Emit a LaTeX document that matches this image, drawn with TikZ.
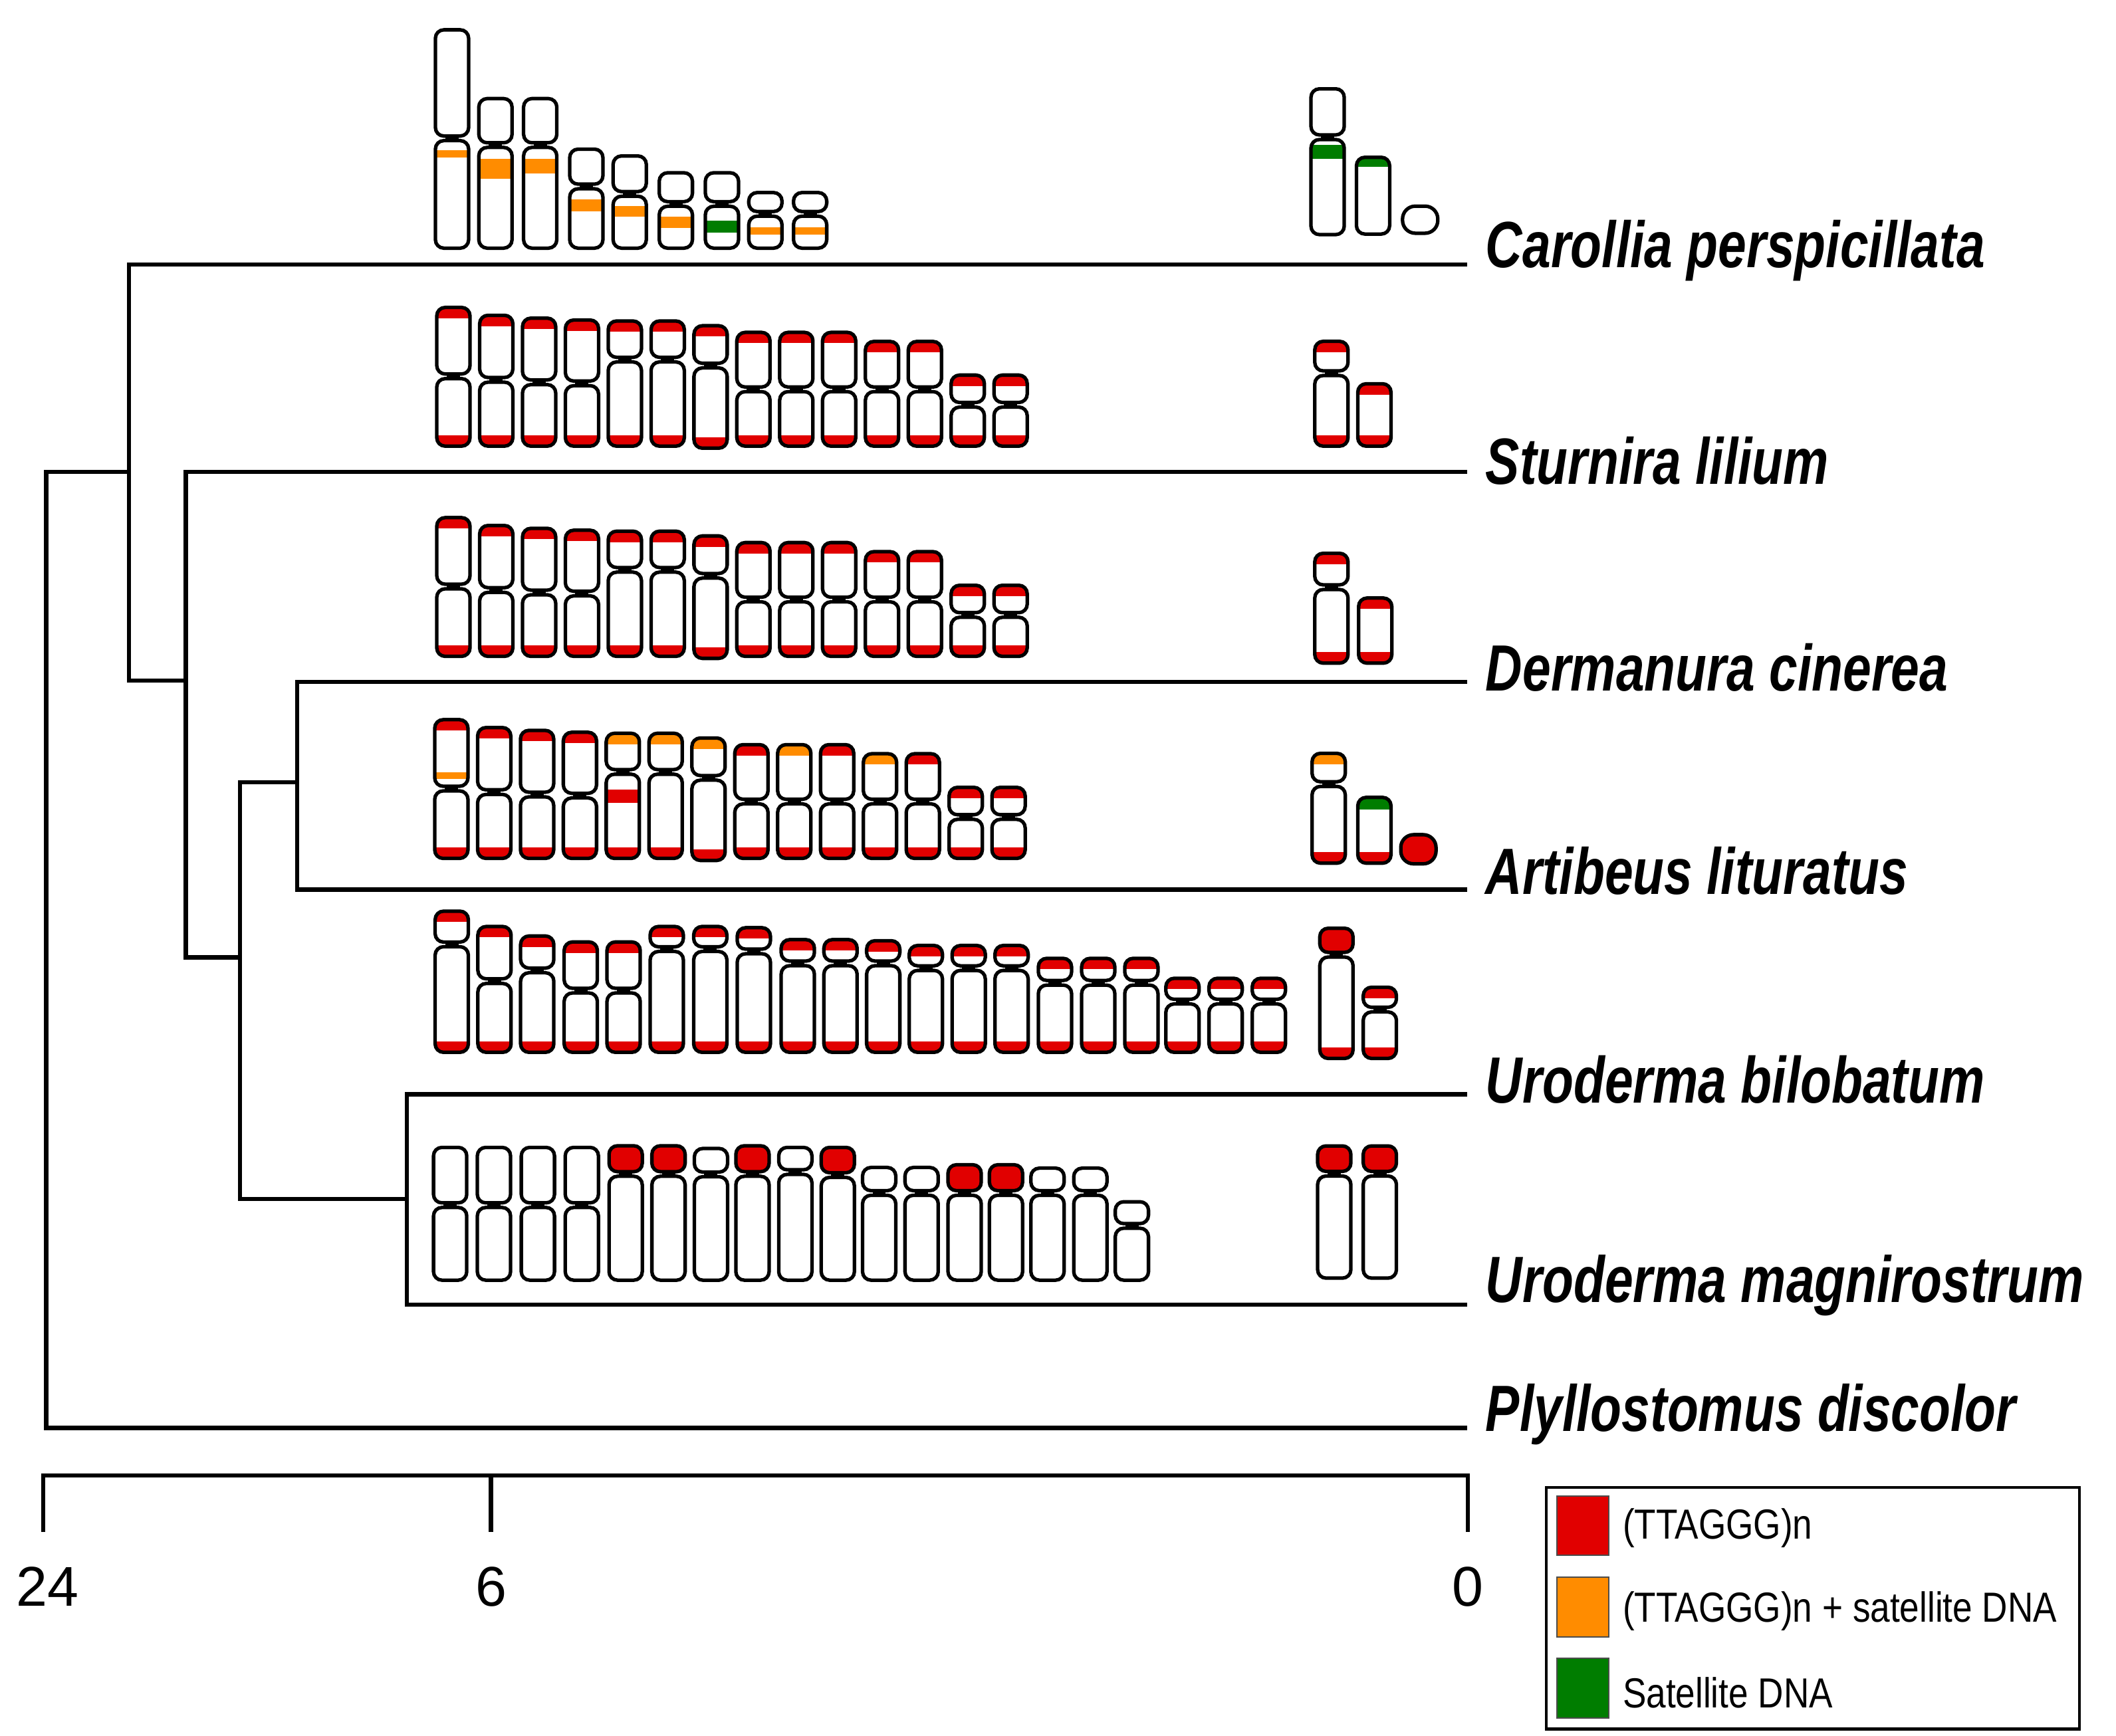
\documentclass[tikz,border=0pt]{standalone}
\usepackage{fontspec}
\setmainfont{Liberation Sans}
\definecolor{tred}{RGB}{225,0,0}
\definecolor{torange}{RGB}{255,140,0}
\definecolor{tgreen}{RGB}{0,125,0}
\newcommand\cw{24.5}
\newcommand\rcr{3.6pt}
\newcommand\arm[4]{%
 \begin{scope}\def\X{#1}\def\T{#2}\def\B{#3}
  \clip[rounded corners=\rcr] (#1,#2) rectangle (#1+\cw,#3);
  #4
 \end{scope}
 \draw[chr,rounded corners=\rcr] (#1,#2) rectangle (#1+\cw,#3);}
\newcommand\chrom[6]{%
 \arm{#1}{#2}{#3-1.7}{#5}
 \arm{#1}{#3+1.7}{#4}{#6}
 \fill (#1+0.3*\cw,#3-2.3) rectangle (#1+0.7*\cw,#3+2.3);}
\newcommand\bnd[3]{\fill[#1] (\X-2,#2) rectangle (\X+\cw+2,#3);}
\newcommand\redtop{\fill[tred] (\X-2,\T-2) rectangle (\X+\cw+2,\T+8);}
\newcommand\oratop{\fill[torange] (\X-2,\T-2) rectangle (\X+\cw+2,\T+8);}
\newcommand\redbot{\fill[tred] (\X-2,\B-8) rectangle (\X+\cw+2,\B+2);}
\newcommand\redall{\fill[tred] (\X-2,\T-2) rectangle (\X+\cw+2,\B+2);}
\newcommand\spname[1]{\scalebox{0.78}[1]{\bfseries\itshape #1}}
\newcommand\lgname[1]{\scalebox{0.84}[1]{#1}}
\begin{document}
\begin{tikzpicture}[x=0.0204cm,y=-0.0204cm,
 chr/.style={draw=black,line width=1.5pt},
 tree/.style={line width=1.8pt,line cap=rect},
 lab/.style={anchor=west,font=\fontsize{28}{30}\selectfont,inner sep=0pt},
 num/.style={font=\fontsize{24}{26}\selectfont,inner sep=0pt},
 lgt/.style={anchor=west,font=\fontsize{18}{20}\selectfont,inner sep=0pt},
 sw/.style={draw=black!70,line width=0.6pt}]
\useasboundingbox (0,0) rectangle (1560,1280);
% ---------- tree ----------
\coordinate (cE) at (1080,195);
\coordinate (sE) at (1080,348);
\coordinate (dE) at (1080,503);
\coordinate (aE) at (1080,656);
\coordinate (ubE) at (1080,807);
\coordinate (umE) at (1080,962);
\coordinate (pE) at (1080,1053);
\coordinate (nU) at (300,884);
\coordinate (nDA) at (219,577);
\coordinate (nDAU) at (177,706);
\coordinate (nS) at (137,502);
\coordinate (nC) at (95,348);
\coordinate (root) at (34,700);
\draw[tree] (ubE) -- (ubE-|nU) -- (umE-|nU) -- (umE);
\draw[tree] (dE) -- (dE-|nDA) -- (aE-|nDA) -- (aE);
\draw[tree] (nDA) -- (nDA-|nDAU) -- (nU-|nDAU) -- (nU);
\draw[tree] (nDAU) -- (nDAU-|nS);
\draw[tree] (sE) -- (sE-|nS) -- (nDAU-|nS);
\draw[tree] (nS) -- (nS-|nC);
\draw[tree] (cE) -- (cE-|nC) -- (nS-|nC);
\draw[tree] (nC) -- (nC-|root) -- (pE-|root) -- (pE);
% labels
\node[lab] (lC) at (1095,185) {\spname{Carollia perspicillata}};
\node[lab] (lS) at (1095,340) {\spname{Sturnira lilium}};
\node[lab] (lD) at (1095,492) {\spname{Dermanura cinerea}};
\node[lab] (lA) at (1095,642) {\spname{Artibeus lituratus}};
\node[lab] (lUB) at (1095,796) {\spname{Uroderma bilobatum}};
\node[lab] (lUM) at (1095,948) {\spname{Uroderma magnirostrum}};
\node[lab] (lP) at (1095,1043) {\spname{Plyllostomus discolor}};
% axis
\coordinate (t24) at (32,1088);
\coordinate (t6) at (362,1088);
\coordinate (t0) at (1082,1088);
\draw[tree] (t24) -- (t0);
\draw[tree] (t24) -- ++(0,40);
\draw[tree] (t6) -- ++(0,40);
\draw[tree] (t0) -- ++(0,40);
\node[num] (n24) at (35,1170) {24};
\node[num] (n6) at (362,1170) {6};
\node[num] (n0) at (1082,1170) {0};
% legend
\draw[line width=1.2pt] (1140,1097) rectangle (1533,1275);
\draw[sw,fill=tred] (1148,1103) rectangle (1186,1147);
\draw[sw,fill=torange] (1148,1163) rectangle (1186,1207);
\draw[sw,fill=tgreen] (1148,1223) rectangle (1186,1267);
\node[lgt] (g1) at (1196,1127) {\lgname{(TTAGGG)n}};
\node[lgt] (g2) at (1196,1188) {\lgname{(TTAGGG)n + satellite DNA}};
\node[lgt] (g3) at (1196,1248) {\lgname{Satellite DNA}};
% ---------- Carollia ----------
\chrom{321}{22}{102}{183}{}{\bnd{torange}{111}{116}}
\chrom{353}{72.7}{107}{183}{}{\bnd{torange}{117}{132}}
\chrom{386}{72.7}{107}{183}{}{\bnd{torange}{117}{128}}
\chrom{420}{110}{137.5}{183}{}{\bnd{torange}{147}{156}}
\chrom{452}{115}{143}{183}{}{\bnd{torange}{152}{160}}
\chrom{486}{127.4}{150.4}{183}{}{\bnd{torange}{160}{168}}
\chrom{520}{127.4}{150.4}{183}{}{\bnd{tgreen}{162.6}{171.6}}
\chrom{552}{142}{157.7}{183}{}{\bnd{torange}{167.5}{173}}
\chrom{585}{142}{157.7}{183}{}{\bnd{torange}{167.5}{173}}
\chrom{966.5}{65.5}{101.2}{173}{}{\bnd{tgreen}{107}{117}}
\arm{1000}{116}{172.6}{\bnd{tgreen}{114}{123}}
\begin{scope}\renewcommand\cw{26}\renewcommand\rcr{5.5pt}
\arm{1034}{152}{172}{}
\end{scope}
% ---------- Sturnira & Dermanura ----------
\foreach \s in {0,155}{
\begin{scope}[shift={(0,\s)}]
\chrom{322}{226.7}{277.5}{329}{\redtop}{\redbot}
\chrom{353.6}{232.5}{280.1}{329}{\redtop}{\redbot}
\chrom{385.2}{234.6}{281.9}{329}{\redtop}{\redbot}
\chrom{416.8}{236}{282.7}{329}{\redtop}{\redbot}
\chrom{448.4}{236.7}{265.2}{329}{\redtop}{\redbot}
\chrom{480}{236.7}{265.2}{329}{\redtop}{\redbot}
\chrom{511.6}{240.2}{269.6}{330.5}{\redtop}{\redbot}
\chrom{543.2}{245.1}{287.1}{329}{\redtop}{\redbot}
\chrom{574.8}{245.1}{287.1}{329}{\redtop}{\redbot}
\chrom{606.4}{245.1}{287.1}{329}{\redtop}{\redbot}
\chrom{638}{251.8}{287.1}{329}{\redtop}{\redbot}
\chrom{669.6}{251.8}{287.1}{329}{\redtop}{\redbot}
\chrom{701.2}{276.6}{298.5}{329}{\redtop}{\redbot}
\chrom{732.8}{276.6}{298.5}{329}{\redtop}{\redbot}
\end{scope}}
\chrom{969.3}{251.7}{275.2}{329}{\redtop}{\redbot}
\arm{1001}{283}{329}{\redtop\redbot}
\chrom{969.3}{408}{433}{489}{\redtop}{\redbot}
\arm{1001.6}{441}{489}{\redtop\redbot}
% ---------- Artibeus ----------
\begin{scope}[shift={(-1.5,304)}]
\chrom{322}{226.7}{277.5}{329}{\redtop\bnd{torange}{265.5}{270.6}}{\redbot}
\chrom{353.6}{232.5}{280.1}{329}{\redtop}{\redbot}
\chrom{385.2}{234.6}{281.9}{329}{\redtop}{\redbot}
\chrom{416.8}{236}{282.7}{329}{\redtop}{\redbot}
\chrom{448.4}{236.7}{265.2}{329}{\oratop}{\bnd{tred}{278.3}{288.2}\redbot}
\chrom{480}{236.7}{265.2}{329}{\oratop}{\redbot}
\chrom{511.6}{240.2}{269.6}{330.5}{\oratop}{\redbot}
\chrom{543.2}{245.1}{287.1}{329}{\redtop}{\redbot}
\chrom{574.8}{245.1}{287.1}{329}{\oratop}{\redbot}
\chrom{606.4}{245.1}{287.1}{329}{\redtop}{\redbot}
\chrom{638}{251.8}{287.1}{329}{\oratop}{\redbot}
\chrom{669.6}{251.8}{287.1}{329}{\redtop}{\redbot}
\chrom{701.2}{276.6}{298.5}{329}{\redtop}{\redbot}
\chrom{732.8}{276.6}{298.5}{329}{\redtop}{\redbot}
\end{scope}
\chrom{967.3}{555.5}{578.2}{636.5}{\oratop}{\redbot}
\arm{1001}{588}{636.5}{\bnd{tgreen}{586}{597}\redbot}
\begin{scope}\renewcommand\cw{26}\renewcommand\rcr{5.5pt}
\arm{1032.7}{615.5}{637}{\redall}
\end{scope}
% ---------- Uroderma bilobatum ----------
\foreach \x/\t/\c in {320.8/671.9/696.4,352.3/683.2/723.5,383.8/690.2/715.6,
 415.9/694.6/730.5,447.5/694.6/730.5,479.3/683.2/699.9,511.4/683.2/699.9,
 543.5/684.1/701.6,575.9/692.9/710.4,607.4/692.9/710.4,638.9/693.7/710.4,
 670.3/697.2/713.9,701.9/697.2/713.9,733.5/697.2/713.9,765.5/706.7/724.7,
 797.4/706.7/724.7,829.2/706.7/724.7,859.5/721.4/738.6,891.3/721.4/738.6,
 923.2/721.4/738.6}{\chrom{\x}{\t}{\c}{776}{\redtop}{\redbot}}
\chrom{973}{684.5}{704}{780.5}{\redall}{\redbot}
\chrom{1005}{728}{744.5}{780.5}{\redtop}{\redbot}
% ---------- Uroderma magnirostrum ----------
\chrom{319.6}{846.1}{888.7}{944}{}{}
\chrom{351.9}{846.1}{888.7}{944}{}{}
\chrom{384.3}{846.1}{888.7}{944}{}{}
\chrom{416.7}{846.1}{888.7}{944}{}{}
\chrom{449}{844.9}{865.7}{944}{\redall}{}
\chrom{480.6}{844.9}{865.7}{944}{\redall}{}
\chrom{511.9}{846.9}{866}{944}{}{}
\chrom{542.5}{844.9}{865.7}{944}{\redall}{}
\chrom{574.1}{846.1}{864.3}{944}{}{}
\chrom{605.4}{846.1}{866.5}{944}{\redall}{}
\chrom{635.9}{860.9}{879.7}{944}{}{}
\chrom{667.2}{860.9}{879.7}{944}{}{}
\chrom{698.9}{858.9}{879.7}{944}{\redall}{}
\chrom{729.4}{858.9}{879.7}{944}{\redall}{}
\chrom{760}{861.4}{879.7}{944}{}{}
\chrom{791.6}{861.4}{879.7}{944}{}{}
\chrom{822.2}{886.2}{904}{944}{}{}
\chrom{971.4}{845}{865.5}{942.5}{\redall}{}
\chrom{1005}{845}{865.5}{942.5}{\redall}{}
\end{tikzpicture}
\end{document}
